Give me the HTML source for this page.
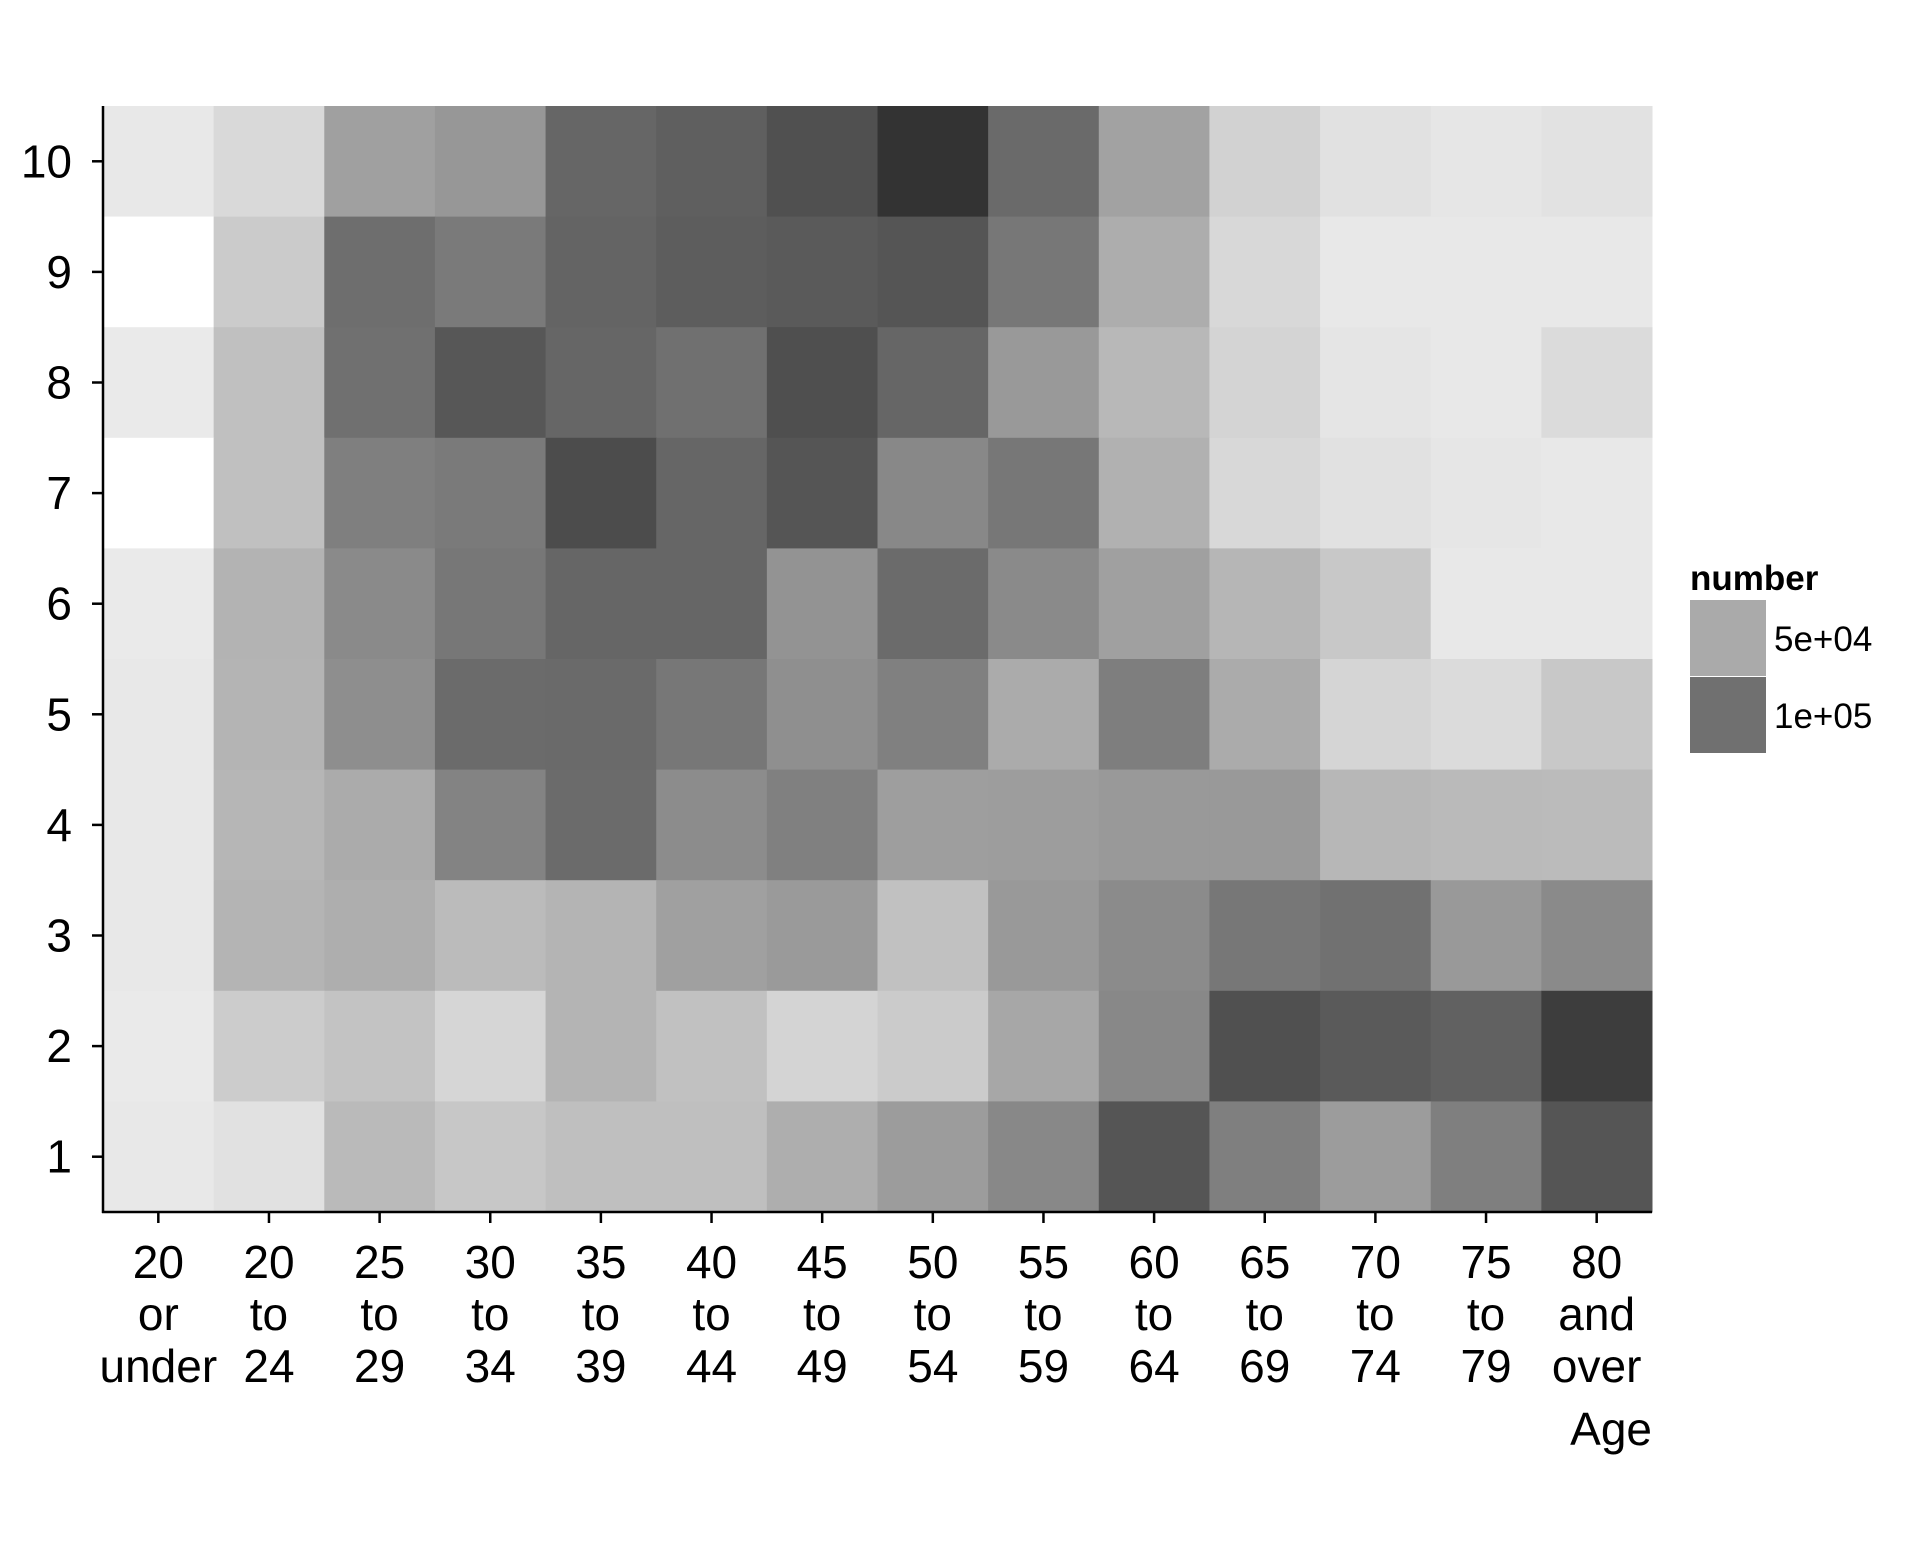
<!DOCTYPE html>
<html><head><meta charset="utf-8"><style>
html,body{margin:0;padding:0;background:#fff;}
svg text{font-family:"Liberation Sans",Arial,sans-serif;fill:#000;}
</style></head><body>
<svg id="chart" width="1920" height="1536" viewBox="0 0 1920 1536" xmlns="http://www.w3.org/2000/svg">
<g id="cells"></g>
<g id="axes"></g>
<g id="legend"></g>
</svg>
<script>
const categories = [["20","or","under"],["20","to","24"],["25","to","29"],["30","to","34"],["35","to","39"],["40","to","44"],["45","to","49"],["50","to","54"],["55","to","59"],["60","to","64"],["65","to","69"],["70","to","74"],["75","to","79"],["80","and","over"]];
const yTicks = [1,2,3,4,5,6,7,8,9,10];
// values in thousands, rows from y=10 down to y=1; null = missing
const row10 = [2,14,59,66,108,114,126,149,105,57,19,8,4,7];
const row9 = [null,25,102,91,110,115,118,122,94,48,15,2,2,2];
const row8 = [1,33,100,120,108,100,127,108,65,39,18,5,2,12];
const row7 = [null,33,87,91,129,108,122,79,94,45,15,8,4,2];
const row6 = [1,43,78,94,108,108,70,104,78,59,41,27,2,2];
const row5 = [2,42,74,104,105,94,73,86,49,88,49,17,12,27];
const row4 = [2,41,49,84,104,76,86,60,61,65,65,40,38,37];
const row3 = [2,42,47,37,42,59,64,32,65,77,94,99,65,78];
const row2 = [1,24,31,16,42,32,18,25,53,79,126,118,112,141];
const row1 = [2,8,38,28,34,34,47,62,79,122,87,62,87,122];
const rows = [row10,row9,row8,row7,row6,row5,row4,row3,row2,row1];
const legendValues = [50,100];
const legendLabels = ["5e+04","1e+05"];

const NS="http://www.w3.org/2000/svg";
const L=103,R=1652,T=106,B=1212;
const cw=(R-L)/categories.length, rh=(B-T)/yTicks.length;
function xPos(i){return L+i*cw;}
function yPos(v){return B-(v-0.5)*rh;}
function fill(v){
  if(v===null) return "#ffffff";
  const st=[[0,235],[50,170],[100,112],[150,50]];
  let g;
  if(v>=150) g=50-(v-150)*1.24;
  else { for(let k=0;k<3;k++){ if(v<=st[k+1][0]){const a=st[k],b=st[k+1];g=a[1]+(b[1]-a[1])*(v-a[0])/(b[0]-a[0]);break;} } }
  g=Math.max(0,Math.min(255,Math.round(g)));
  return `rgb(${g},${g},${g})`;
}
function mk(tag,attrs,parent,text){const e=document.createElementNS(NS,tag);for(const k in attrs)e.setAttribute(k,attrs[k]);if(text!==undefined)e.textContent=text;parent.appendChild(e);return e;}

const cells=document.getElementById('cells');
rows.forEach((row,ri)=>{
  const yv=yTicks[yTicks.length-1-ri];
  row.forEach((v,ci)=>{
    const r=mk('rect',{x:xPos(ci),y:yPos(yv)-rh/2,width:cw+0.5,height:rh+0.5,fill:fill(v)},cells);
    
    
  });
});

const axes=document.getElementById('axes');
let a=mk('line',{x1:L,y1:T,x2:L,y2:B+1,stroke:'#000','stroke-width':2.5},axes);


a=mk('line',{x1:L-1,y1:B,x2:R,y2:B,stroke:'#000','stroke-width':2.5},axes);


yTicks.forEach(v=>{
  const y=yPos(v);
  const t=mk('line',{x1:L-11,y1:y,x2:L,y2:y,stroke:'#000','stroke-width':2.5},axes);
  
  
  const tx=mk('text',{x:72,y:y+16,'text-anchor':'end','font-size':46},axes,String(v));
  
  
});
categories.forEach((c,i)=>{
  const x=xPos(i)+cw/2;
  const t=mk('line',{x1:x,y1:B,x2:x,y2:B+11,stroke:'#000','stroke-width':2.5},axes);
  
  
  c.forEach((s,j)=>{
    const tx=mk('text',{x:x,y:1278+j*52,'text-anchor':'middle','font-size':46},axes,s);
    
    
  });
});
const at=mk('text',{x:R,y:1445,'text-anchor':'end','font-size':46},axes,'Age');



const lg=document.getElementById('legend');
const lt=mk('text',{x:1690,y:590,'font-size':35,'font-weight':'bold'},lg,'number');


legendValues.forEach((v,i)=>{
  const y=600+i*77;
  const r=mk('rect',{x:1690,y:y,width:76,height:76,fill:fill(v)},lg);
  
  
  const t=mk('text',{x:1774,y:y+51,'font-size':35},lg,legendLabels[i]);
  
  
});
</script>
</body></html>
